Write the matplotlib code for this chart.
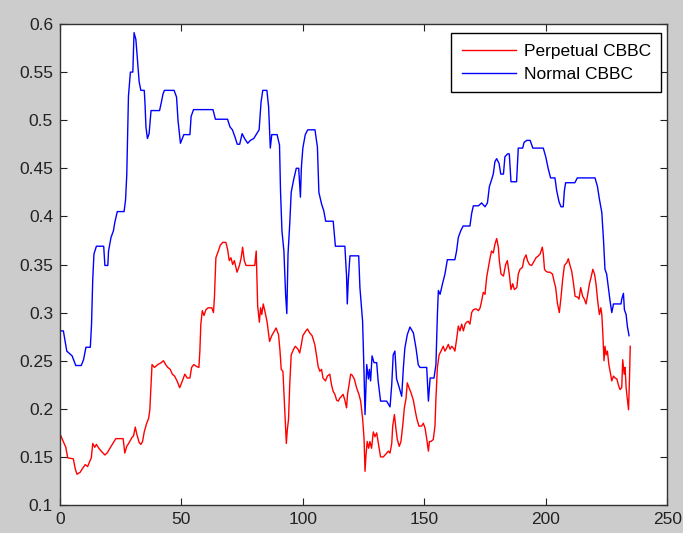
import matplotlib
matplotlib.use("Agg")
import matplotlib.pyplot as plt
from matplotlib.ticker import FuncFormatter

# Normal CBBC (blue)
normal_x = [0, 1.4, 2.8, 5, 6.5, 8.75, 9.7, 10.7, 12.5, 13, 13.5, 14, 15, 18, 18.5, 19.7, 20, 21, 22, 22.6,
            23.6, 26.4, 27, 27.5, 27.8, 28.2, 29, 30, 30.5, 31.25, 32, 32.6, 33.3, 34.7, 35, 35.4, 36, 36.7,
            37.5, 41, 41.7, 42.4, 43, 47, 48, 48.6, 49.6, 50.4, 51, 53.5, 54, 55, 63, 64, 69, 70, 71, 72, 73,
            74, 75, 76, 77.3, 78.4, 79.8, 80.8, 82, 82.8, 83.5, 85.2, 85.9, 86.6, 87.2, 89.4, 90.4, 90.8,
            91.4, 92.2, 92.9, 93.4, 93.9, 94.6, 95.2, 96.2, 97.3, 98.3, 99, 99.4, 100, 101, 102, 105, 106,
            106.6, 107.7, 108.6, 109.4, 112.5, 113.4, 117.3, 118, 118.3, 118.7, 119.4, 123, 123.5, 124.6,
            125.2, 125.6, 126.3, 127, 127.4, 127.9, 128.5, 129.3, 130.4, 131, 132, 134.5, 135.9, 136.6,
            137.2, 137.9, 138.6, 139.7, 140.7, 141.4, 142, 143, 144.1, 145.5, 146.6, 147.5, 148.2, 151,
            151.7, 152.4, 154, 154.8, 155.4, 155.8, 156.5, 157.6, 158.5, 159.5, 162.6, 163.3, 164, 165,
            166, 168.8, 169.5, 170.2, 172.3, 173.6, 175, 176, 176.8, 177.7, 178.4, 179.1, 179.8, 180.8,
            181.5, 182.6, 183.2, 184.3, 185, 185.7, 188, 188.7, 190.5, 191.1, 192.2, 193.6, 194.7, 199,
            200, 201, 202, 203.8, 204.5, 205.5, 206.3, 207.2, 207.7, 208.2, 212, 213, 220.3, 221.3, 222.1,
            223.1, 223.8, 224.4, 225.1, 225.8, 226.5, 227.2, 227.9, 231, 231.3, 232, 232.4, 233.1, 233.6,
            234.3]
normal_y = [0.281, 0.281, 0.26, 0.255, 0.245, 0.245, 0.251, 0.264, 0.264, 0.288, 0.335, 0.361, 0.369,
            0.369, 0.349, 0.349, 0.364, 0.378, 0.385, 0.394, 0.405, 0.405, 0.417, 0.443, 0.478, 0.525,
            0.55, 0.55, 0.591, 0.584, 0.559, 0.54, 0.531, 0.531, 0.518, 0.493, 0.481, 0.486, 0.51, 0.51,
            0.518, 0.527, 0.531, 0.531, 0.524, 0.5, 0.476, 0.481, 0.485, 0.485, 0.504, 0.511, 0.511,
            0.501, 0.501, 0.493, 0.49, 0.483, 0.475, 0.475, 0.486, 0.481, 0.476, 0.479, 0.481, 0.485,
            0.49, 0.519, 0.531, 0.531, 0.514, 0.471, 0.485, 0.485, 0.474, 0.427, 0.385, 0.364, 0.319,
            0.299, 0.361, 0.392, 0.425, 0.438, 0.45, 0.45, 0.42, 0.451, 0.471, 0.485, 0.49, 0.49, 0.472,
            0.425, 0.413, 0.406, 0.395, 0.395, 0.369, 0.369, 0.338, 0.309, 0.333, 0.359, 0.359, 0.326,
            0.291, 0.237, 0.194, 0.246, 0.231, 0.241, 0.229, 0.255, 0.248, 0.248, 0.229, 0.208, 0.208,
            0.202, 0.225, 0.256, 0.26, 0.231, 0.222, 0.213, 0.243, 0.263, 0.277, 0.285, 0.279, 0.263,
            0.246, 0.243, 0.243, 0.208, 0.232, 0.232, 0.246, 0.298, 0.323, 0.319, 0.331, 0.34, 0.355,
            0.355, 0.364, 0.378, 0.385, 0.39, 0.39, 0.403, 0.411, 0.411, 0.414, 0.41, 0.414, 0.431, 0.438,
            0.444, 0.457, 0.46, 0.455, 0.444, 0.444, 0.462, 0.465, 0.465, 0.436, 0.436, 0.471, 0.471,
            0.477, 0.479, 0.479, 0.471, 0.471, 0.462, 0.45, 0.44, 0.44, 0.427, 0.415, 0.41, 0.41, 0.427,
            0.435, 0.435, 0.44, 0.44, 0.431, 0.418, 0.404, 0.375, 0.345, 0.34, 0.326, 0.312, 0.3, 0.309,
            0.309, 0.314, 0.32, 0.303, 0.298, 0.286, 0.276]

# Perpetual CBBC (red)
perp_x = [0, 1.4, 2.4, 3.2, 5.5, 6.25, 7, 8.3, 9.3, 10.4, 11.4, 12.2, 12.9, 13.5, 14.3, 15, 16, 17, 18.5,
          19.4, 20.8, 21.8, 23, 26, 26.7, 27.5, 28.5, 29.6, 30.3, 31, 31.7, 32.6, 33.3, 34, 34.7, 35.7,
          36.5, 37, 37.5, 37.9, 38.9, 40.3, 41.7, 42.6, 43.5, 44.4, 45.4, 46.25, 47.2, 48.2, 49.3, 50.4,
          51.4, 52.4, 53.5, 54.2, 55.1, 56.25, 57.2, 57.6, 58, 58.6, 59.3, 60.1, 61, 62.5, 63.2, 63.6,
          64.2, 65.2, 66, 67, 68.3, 69, 69.7, 70.4, 71.1, 71.8, 72.9, 73.9, 74.6, 75.2, 75.9, 76.6, 80.2,
          80.8, 81.4, 82.1, 82.6, 83.1, 83.7, 84.5, 85.3, 86.3, 87.2, 88.3, 89, 90, 90.6, 91.1, 91.8,
          92.2, 92.8, 93.2, 93.6, 94.1, 94.6, 95.2, 96.2, 96.9, 98, 98.7, 99.4, 100, 101, 101.9, 102.8,
          103.8, 104.9, 105.6, 106.3, 107, 107.7, 108.3, 109.3, 110.1, 111.1, 111.8, 112.5, 113.2, 113.9,
          114.6, 115.2, 115.9, 116.6, 117.3, 118, 118.4, 119, 119.7, 120.3, 121.2, 122.1, 123.1, 123.8,
          124.6, 125.2, 125.6, 126, 126.5, 127.1, 127.6, 128.3, 129, 129.7, 130.4, 131.1, 132, 133.1,
          134.2, 135.2, 135.9, 136.6, 137, 137.7, 138.3, 138.9, 139.7, 140.4, 141.1, 141.8, 142.5, 143,
          143.7, 144.5, 145.5, 146.2, 146.9, 147.8, 148.9, 149.6, 150.3, 151, 151.7, 152.1, 152.7, 153.7,
          154.4, 154.8, 155.4, 156.1, 156.9, 157.8, 158.5, 159.2, 159.9, 160.6, 161.3, 162, 162.6, 163.3,
          164, 164.7, 165.4, 166.1, 166.8, 167.4, 168.1, 168.8, 169.5, 170.2, 171.3, 172.3, 173, 173.6,
          174.3, 175, 175.7, 176.4, 177.1, 177.7, 178.4, 179.1, 179.8, 180.5, 180.9, 181.6, 182.6, 183.5,
          184.2, 185, 185.7, 186.4, 187.1, 188.1, 188.7, 189.4, 190.4, 191.1, 191.9, 192.5, 193.3, 194.2,
          194.9, 196, 197, 197.7, 198.6, 199, 199.5, 200.1, 200.8, 201.8, 202.8, 203.4, 204.1, 204.8,
          205.6, 206.3, 207, 207.7, 208.7, 209.3, 210, 210.7, 211.4, 212.1, 213.1, 213.7, 214.4, 215.2,
          215.9, 216.6, 217.3, 218, 218.7, 219.4, 220.1, 220.7, 221.4, 222.1, 222.7, 223.1, 223.5, 224,
          224.4, 224.9, 225.4, 226, 226.5, 227.2, 227.9, 228.6, 229.3, 229.9, 230.6, 231.3, 231.7, 232.3,
          232.7, 233.1, 233.6, 234.1, 234.5, 234.8]
perp_y = [0.174, 0.166, 0.16, 0.149, 0.148, 0.138, 0.132, 0.134, 0.138, 0.142, 0.14, 0.145, 0.149, 0.164,
          0.16, 0.163, 0.159, 0.156, 0.152, 0.154, 0.16, 0.164, 0.169, 0.169, 0.154, 0.161, 0.165, 0.17,
          0.172, 0.181, 0.173, 0.165, 0.163, 0.166, 0.176, 0.185, 0.19, 0.199, 0.225, 0.246, 0.243, 0.246,
          0.248, 0.25, 0.246, 0.243, 0.241, 0.236, 0.234, 0.229, 0.222, 0.229, 0.236, 0.232, 0.232, 0.243,
          0.246, 0.244, 0.243, 0.26, 0.288, 0.302, 0.297, 0.303, 0.305, 0.305, 0.3, 0.316, 0.357, 0.364,
          0.37, 0.373, 0.373, 0.366, 0.354, 0.357, 0.35, 0.354, 0.342, 0.349, 0.357, 0.368, 0.354, 0.349,
          0.349, 0.364, 0.307, 0.29, 0.305, 0.298, 0.309, 0.3, 0.29, 0.27, 0.276, 0.281, 0.284, 0.277,
          0.26, 0.241, 0.239, 0.218, 0.187, 0.164, 0.178, 0.189, 0.225, 0.256, 0.262, 0.265, 0.262, 0.258,
          0.267, 0.276, 0.28, 0.283, 0.279, 0.276, 0.267, 0.256, 0.244, 0.239, 0.241, 0.232, 0.229, 0.234,
          0.236, 0.225, 0.218, 0.215, 0.209, 0.208, 0.211, 0.213, 0.215, 0.209, 0.201, 0.215, 0.225,
          0.236, 0.235, 0.231, 0.222, 0.215, 0.208, 0.19, 0.169, 0.135, 0.152, 0.166, 0.159, 0.166, 0.159,
          0.176, 0.171, 0.175, 0.164, 0.15, 0.15, 0.153, 0.156, 0.154, 0.164, 0.182, 0.194, 0.18, 0.168,
          0.161, 0.166, 0.182, 0.201, 0.211, 0.227, 0.222, 0.217, 0.209, 0.199, 0.19, 0.182, 0.182, 0.185,
          0.18, 0.169, 0.156, 0.166, 0.166, 0.168, 0.182, 0.211, 0.243, 0.256, 0.26, 0.265, 0.26, 0.263,
          0.267, 0.262, 0.265, 0.263, 0.26, 0.272, 0.286, 0.281, 0.288, 0.281, 0.288, 0.29, 0.291, 0.288,
          0.3, 0.303, 0.304, 0.302, 0.305, 0.312, 0.321, 0.319, 0.337, 0.347, 0.357, 0.364, 0.362, 0.371,
          0.377, 0.368, 0.354, 0.34, 0.338, 0.35, 0.354, 0.34, 0.324, 0.33, 0.324, 0.326, 0.34, 0.345,
          0.347, 0.356, 0.36, 0.354, 0.35, 0.349, 0.352, 0.357, 0.359, 0.361, 0.368, 0.361, 0.345, 0.343,
          0.342, 0.342, 0.34, 0.333, 0.326, 0.31, 0.3, 0.316, 0.335, 0.349, 0.352, 0.356, 0.349, 0.343,
          0.331, 0.317, 0.316, 0.314, 0.326, 0.317, 0.314, 0.309, 0.319, 0.33, 0.337, 0.345, 0.34, 0.33,
          0.312, 0.298, 0.305, 0.298, 0.279, 0.25, 0.265, 0.256, 0.26, 0.246, 0.239, 0.229, 0.234, 0.232,
          0.231, 0.225, 0.22, 0.222, 0.251, 0.236, 0.243, 0.222, 0.211, 0.199, 0.232, 0.265]

x_ticks = [0, 50, 100, 150, 200, 250]
y_ticks = [0.1, 0.15, 0.2, 0.25, 0.3, 0.35, 0.4, 0.45, 0.5, 0.55, 0.6]

plt.rcParams['font.family'] = ['Liberation Sans', 'DejaVu Sans']

fig = plt.figure(figsize=(6.83, 5.33), dpi=100, facecolor='#cccccc')
ax = fig.add_axes([0.0878, 0.0525, 0.889, 0.9025])

ax.plot(perp_x, perp_y, color='#ff0000', lw=1.0, label='Perpetual CBBC')
ax.plot(normal_x, normal_y, color='#0000ff', lw=1.0, label='Normal CBBC')

ax.set_xlim(0, 250)
ax.set_ylim(0.1, 0.6)
ax.set_xticks(x_ticks)
ax.set_yticks(y_ticks)
ax.yaxis.set_major_formatter(FuncFormatter(lambda v, p: '%g' % round(v, 2)))
ax.tick_params(direction='in', top=True, right=True, length=5, width=0.8,
               labelsize=12.5, colors='#222222', pad=5)
for s in ax.spines.values():
    s.set_color('#333333')
    s.set_linewidth(1.0)

leg = ax.legend(loc='upper right', bbox_to_anchor=(0.99, 0.981), fontsize=12.5,
                fancybox=False, edgecolor='black', framealpha=1, handlelength=3.1,
                handletextpad=0.45, labelspacing=0.45, borderpad=0.6, borderaxespad=0)
leg.get_frame().set_linewidth(1.0)

fig.savefig('out.png', dpi=100, facecolor=fig.get_facecolor())
